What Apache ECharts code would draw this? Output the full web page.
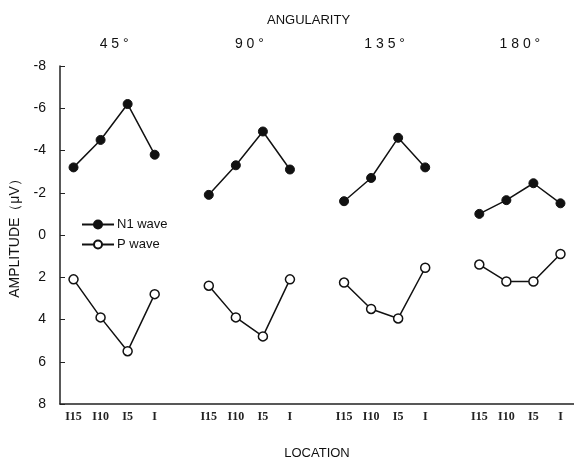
<!DOCTYPE html>
<html>
<head>
<meta charset="utf-8">
<script src="https://cdn.jsdelivr.net/npm/echarts@6/dist/echarts.min.js"></script>
<style>
  html, body { margin: 0; padding: 0; background: #fff; }
  #chart { width: 574px; height: 468px; }
</style>
</head>
<body>
<div id="chart"></div>
<script>
// values (µV), negative is up
var angles = ["45°", "90°", "135°", "180°"];
var locations = ["I15", "I10", "I5", "I"];
var n1Wave = [
  [-3.2, -4.5, -6.2, -3.8],
  [-1.9, -3.3, -4.9, -3.1],
  [-1.6, -2.7, -4.6, -3.2],
  [-1.0, -1.65, -2.45, -1.5]
];
var pWave = [
  [2.1, 3.9, 5.5, 2.8],
  [2.4, 3.9, 4.8, 2.1],
  [2.25, 3.5, 3.95, 1.55],
  [1.4, 2.2, 2.2, 0.9]
];
var yTicks = { min: -8, max: 8, step: 2 };

// one empty slot between angle groups
var cats = [], n1Data = [], pData = [], groupCenters = [];
angles.forEach(function (a, g) {
  if (g > 0) { cats.push(""); n1Data.push(null); pData.push(null); }
  groupCenters.push(cats.length + (locations.length - 1) / 2);
  locations.forEach(function (loc, i) {
    cats.push(loc);
    n1Data.push(n1Wave[g][i]);
    pData.push(pWave[g][i]);
  });
});

var myChart = echarts.init(document.getElementById("chart"));
var option = {
  animation: false,
  title: {
    text: "ANGULARITY",
    left: 262,
    top: 9,
    textStyle: { fontFamily: "Liberation Sans", fontSize: 13, fontWeight: "normal", color: "#111" }
  },
  legend: {
    orient: "vertical",
    left: 76,
    top: 213,
    itemWidth: 32,
    itemHeight: 10,
    itemGap: 7,
    data: ["N1 wave", "P wave"],
    textStyle: { fontFamily: "Liberation Sans", fontSize: 13, color: "#111", padding: [0, 0, 0, -2] }
  },
  grid: { left: 55, top: 66, width: 521, bottom: 64 },
  xAxis: [
    {
      type: "category",
      data: cats,
      boundaryGap: true,
      name: "LOCATION",
      nameLocation: "middle",
      nameGap: 43,
      nameTextStyle: { fontFamily: "Liberation Sans", fontSize: 13, color: "#111" },
      axisLine: { onZero: false, lineStyle: { color: "#222", width: 1.5 } },
      axisTick: { show: false },
      axisLabel: {
        interval: 0,
        margin: 7,
        fontFamily: "Liberation Serif",
        fontSize: 12,
        fontWeight: "bold",
        color: "#222"
      },
      splitLine: { show: false }
    },
    {
      type: "value",
      position: "top",
      min: -0.5,
      max: cats.length - 0.5,
      axisLine: { show: false, onZero: false },
      axisTick: { show: false },
      splitLine: { show: false },
      axisLabel: {
        customValues: groupCenters,
        margin: 15,
        fontFamily: "Liberation Sans",
        fontSize: 14,
        color: "#111",
        formatter: function (v) {
          var k = groupCenters.indexOf(v);
          return k >= 0 ? angles[k].split("").join(" ") : "";
        }
      }
    }
  ],
  yAxis: {
    type: "value",
    inverse: true,
    min: yTicks.min,
    max: yTicks.max,
    interval: yTicks.step,
    name: "AMPLITUDE（μV）",
    nameLocation: "middle",
    nameGap: 38,
    nameTextStyle: { fontFamily: "Liberation Sans", fontSize: 14, color: "#111" },
    axisLine: { show: true, onZero: false, lineStyle: { color: "#222", width: 1.5 } },
    axisTick: { show: true, inside: true, length: 5, lineStyle: { color: "#222" } },
    axisLabel: { fontFamily: "Liberation Sans", fontSize: 14, color: "#111", margin: 14 },
    splitLine: { show: false }
  },
  series: [
    {
      name: "N1 wave",
      type: "line",
      data: n1Data,
      symbol: "circle",
      symbolSize: 9,
      connectNulls: false,
      lineStyle: { color: "#111", width: 1.5 },
      itemStyle: { color: "#111", borderColor: "#111", borderWidth: 1 }
    },
    {
      name: "P wave",
      type: "line",
      data: pData,
      symbol: "circle",
      symbolSize: 9,
      connectNulls: false,
      lineStyle: { color: "#111", width: 1.5 },
      itemStyle: { color: "#fff", borderColor: "#111", borderWidth: 1.5 }
    }
  ]
};
myChart.setOption(option);
</script>
</body>
</html>
